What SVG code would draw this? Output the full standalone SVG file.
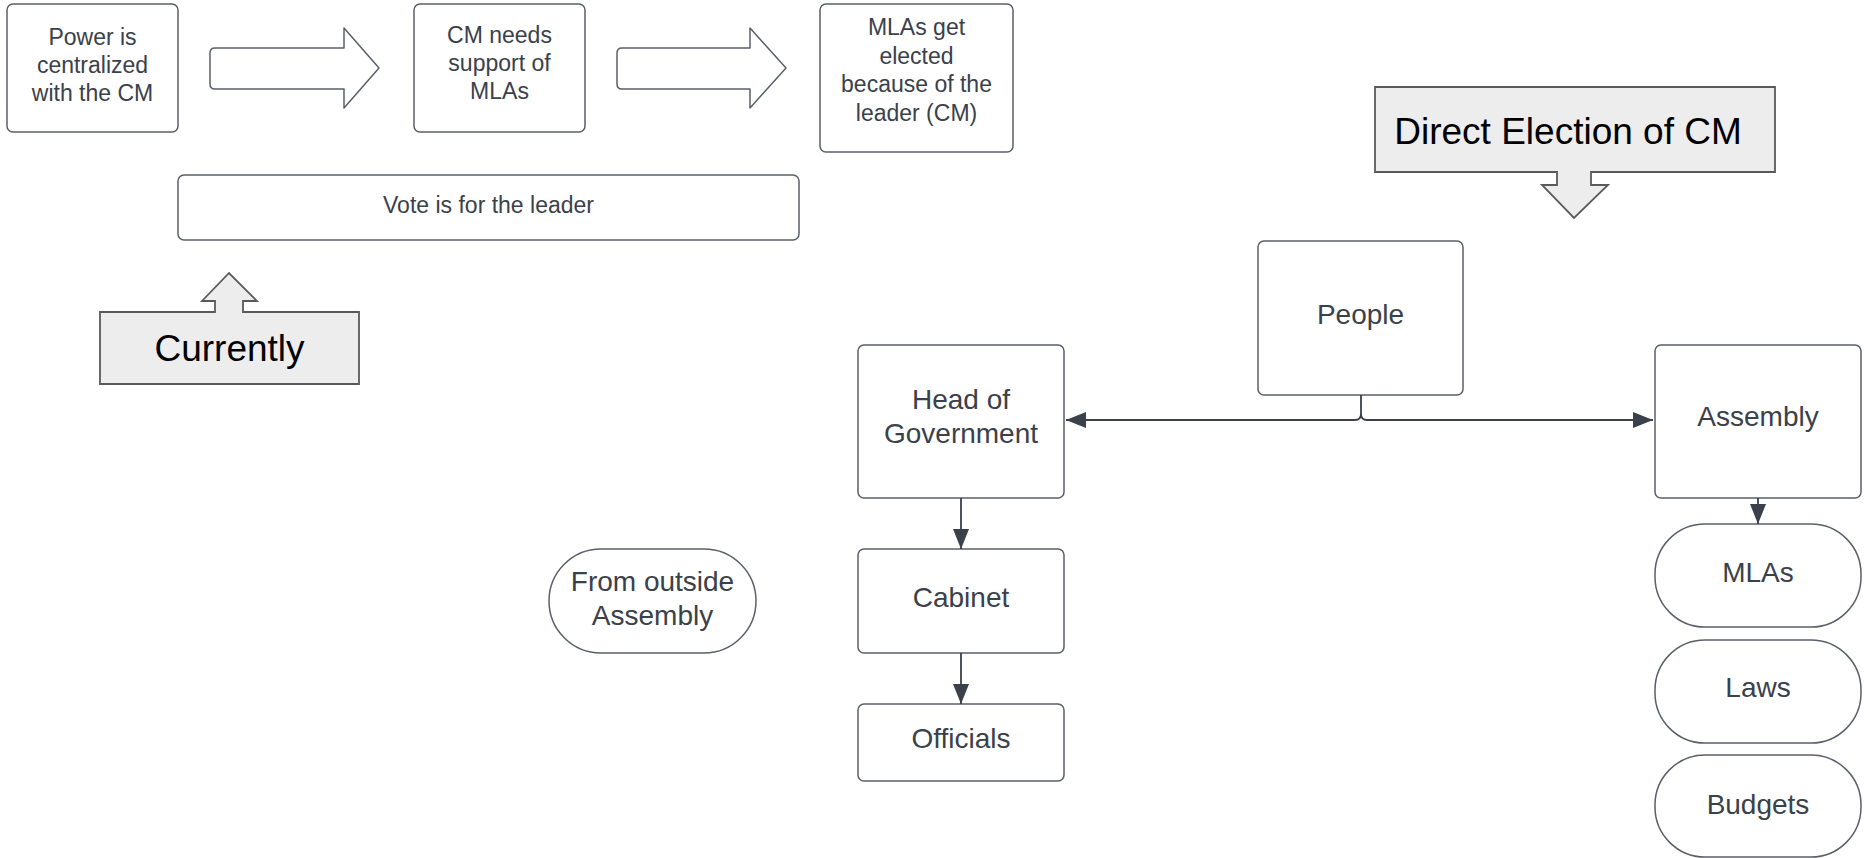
<svg xmlns="http://www.w3.org/2000/svg" width="1864" height="858" viewBox="0 0 1864 858">
  <style>
    .box { fill: #ffffff; stroke: #5b6068; stroke-width: 1.5; }
    .callout { fill: #ededed; stroke: #5a5a5a; stroke-width: 1.8; }
    .blk { fill: #ffffff; stroke: #5b6068; stroke-width: 1.5; stroke-linejoin: round; }
    .t { font-family: "Liberation Sans", Arial, sans-serif; fill: #3a414a; text-anchor: middle; }
    .s { font-size: 23px; }
    .m { font-size: 28px; }
    .big { font-family: "Liberation Sans", Arial, sans-serif; font-size: 37px; fill: #000000; text-anchor: middle; }
    .conn { fill: none; stroke: #3a414a; stroke-width: 1.8; }
  </style>
  <defs>
    <marker id="arrow" viewBox="0 0 20 16" refX="20" refY="8" markerWidth="20" markerHeight="16" markerUnits="userSpaceOnUse" orient="auto">
      <path d="M0 0 L20 8 L0 16 Z" fill="#3a414a"/>
    </marker>
  </defs>

  <rect width="1864" height="858" fill="#ffffff"/>

  <!-- current situation chain -->
  <g id="power-centralized">
    <rect class="box" x="7" y="4" width="171" height="128" rx="6"/>
    <text class="t s"><tspan x="92.5" y="45">Power is</tspan><tspan x="92.5" y="73">centralized</tspan><tspan x="92.5" y="101">with the CM</tspan></text>
  </g>
  <g id="block-arrow-1">
    <path class="blk" d="M215 48 L344 48 L344 28 L379 68 L344 108 L344 89 L215 89 Q210 89 210 84 L210 53 Q210 48 215 48 Z"/>
  </g>
  <g id="cm-needs-support">
    <rect class="box" x="414" y="4" width="171" height="128" rx="6"/>
    <text class="t s"><tspan x="499.5" y="43">CM needs</tspan><tspan x="499.5" y="71">support of</tspan><tspan x="499.5" y="99">MLAs</tspan></text>
  </g>
  <g id="block-arrow-2">
    <path class="blk" d="M622 48 L750 48 L750 28 L786 68 L750 108 L750 89 L622 89 Q617 89 617 84 L617 53 Q617 48 622 48 Z"/>
  </g>
  <g id="mlas-elected">
    <rect class="box" x="820" y="4" width="193" height="148" rx="6"/>
    <text class="t s"><tspan x="916.5" y="35">MLAs get</tspan><tspan x="916.5" y="64">elected</tspan><tspan x="916.5" y="92">because of the</tspan><tspan x="916.5" y="121">leader (CM)</tspan></text>
  </g>
  <g id="vote-for-leader">
    <rect class="box" x="178" y="175" width="621" height="65" rx="6"/>
    <text class="t s" x="488.5" y="212.5">Vote is for the leader</text>
  </g>
  <g id="currently">
    <path class="callout" d="M100 312 L215 312 L215 301 L202 301 L229 273 L257 301 L243 301 L243 312 L359 312 L359 384 L100 384 Z"/>
    <text class="big" x="229.5" y="361">Currently</text>
  </g>

  <!-- proposed structure -->
  <g id="direct-election">
    <path class="callout" d="M1375 87 L1775 87 L1775 172 L1591 172 L1591 185 L1608 185 L1574 218 L1542 185 L1557 185 L1557 172 L1375 172 Z"/>
    <text class="big" x="1568" y="144">Direct Election of CM</text>
  </g>
  <g id="people">
    <rect class="box" x="1258" y="241" width="205" height="154" rx="6"/>
    <text class="t m" x="1360.5" y="324">People</text>
  </g>
  <g id="head-of-government">
    <rect class="box" x="858" y="345" width="206" height="153" rx="6"/>
    <text class="t m"><tspan x="961" y="409">Head of</tspan><tspan x="961" y="443">Government</tspan></text>
  </g>
  <g id="assembly">
    <rect class="box" x="1655" y="345" width="206" height="153" rx="6"/>
    <text class="t m" x="1758" y="426">Assembly</text>
  </g>
  <g id="cabinet">
    <rect class="box" x="858" y="549" width="206" height="104" rx="6"/>
    <text class="t m" x="961" y="607">Cabinet</text>
  </g>
  <g id="officials">
    <rect class="box" x="858" y="704" width="206" height="77" rx="6"/>
    <text class="t m" x="961" y="748">Officials</text>
  </g>
  <g id="from-outside-assembly">
    <rect class="box" x="549" y="549" width="207" height="104" rx="52"/>
    <text class="t m"><tspan x="652.5" y="591">From outside</tspan><tspan x="652.5" y="625">Assembly</tspan></text>
  </g>
  <g id="mlas">
    <rect class="box" x="1655" y="524" width="206" height="103" rx="50"/>
    <text class="t m" x="1758" y="582">MLAs</text>
  </g>
  <g id="laws">
    <rect class="box" x="1655" y="640" width="206" height="103" rx="50"/>
    <text class="t m" x="1758" y="697">Laws</text>
  </g>
  <g id="budgets">
    <rect class="box" x="1655" y="755" width="206" height="102" rx="50"/>
    <text class="t m" x="1758" y="814">Budgets</text>
  </g>

  <g id="connectors">
    <path class="conn" d="M1361 395 L1361 414 Q1361 420 1355 420 L1066 420" marker-end="url(#arrow)"/>
    <path class="conn" d="M1361 414 Q1361 420 1367 420 L1653 420" marker-end="url(#arrow)"/>
    <path class="conn" d="M961 498 L961 549" marker-end="url(#arrow)"/>
    <path class="conn" d="M961 653 L961 704" marker-end="url(#arrow)"/>
    <path class="conn" d="M1758 498 L1758 524" marker-end="url(#arrow)"/>
  </g>
</svg>
